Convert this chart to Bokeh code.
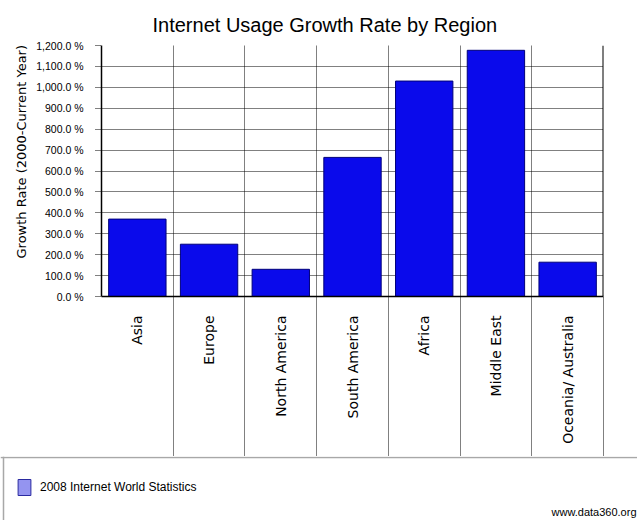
import math
from bokeh.plotting import figure
from bokeh.models import Range1d, FixedTicker, Span, Legend, LegendItem, ColumnDataSource, Title
from bokeh.layouts import column, row
from bokeh.embed import file_html
from bokeh.resources import INLINE
from bokeh.core.properties import value

# ---- data ----
regions = ["Asia", "Europe", "North America", "South America", "Africa", "Middle East", "Oceania/ Australia"]
growth = [370, 250, 130, 665, 1030, 1177, 164]
y_ticks = [0, 100, 200, 300, 400, 500, 600, 700, 800, 900, 1000, 1100, 1200]
y_tick_labels = ["0.0 %", "100.0 %", "200.0 %", "300.0 %", "400.0 %", "500.0 %", "600.0 %",
                 "700.0 %", "800.0 %", "900.0 %", "1,000.0 %", "1,100.0 %", "1,200.0 %"]
title_text = "Internet Usage Growth Rate by Region"
y_title = "Growth Rate (2000-Current Year)"
series_name = "2008 Internet World Statistics"
source_note = "www.data360.org"

n = len(regions)
x_pos = [i + 0.5 for i in range(n)]
bounds = [i + 1 for i in range(n)]

SANS = "Liberation Sans"
W, H_TOP, H_BOT = 637, 456, 64

p = figure(width=W, height=H_TOP, x_range=Range1d(0, n), y_range=Range1d(0, 1200),
           output_backend="svg", toolbar_location=None,
           min_border_left=101, min_border_right=34, min_border_top=45, min_border_bottom=160)
p.outline_line_color = None
p.background_fill_color = "white"
p.border_fill_color = "white"

src = ColumnDataSource(dict(x=x_pos, top=growth, region=regions))
bars = p.vbar(x="x", top="top", bottom=0, width=0.8, source=src,
              fill_color="#0a0aeb", line_color="#00007a", line_width=1)

# grids
p.xgrid.ticker = FixedTicker(ticks=bounds[:-1])
p.ygrid.ticker = FixedTicker(ticks=y_ticks)
for g in (p.xgrid[0], p.ygrid[0]):
    g.grid_line_color = "black"
    g.grid_line_dash = "1 1"
    g.grid_line_width = 1

# x axis: long dotted minor ticks form the column separators below the plot
xax = p.xaxis[0]
xax.ticker = FixedTicker(ticks=x_pos, minor_ticks=bounds)
xax.major_label_overrides = {x: r for x, r in zip(x_pos, regions)}
xax.major_label_orientation = math.pi / 2
xax.major_tick_out = 0
xax.major_tick_in = 0
xax.minor_tick_out = 160
xax.minor_tick_in = 0
xax.minor_tick_line_color = "black"
xax.minor_tick_line_dash = "1 1"
xax.axis_line_color = "black"
xax.axis_line_width = 1.5
xax.major_label_standoff = 19 - 160
xax.major_label_text_font = "DejaVu Sans"
xax.major_label_text_font_size = "14px"
xax.major_label_text_color = "black"

# y axis
yax = p.yaxis[0]
yax.ticker = FixedTicker(ticks=y_ticks, minor_ticks=[])
yax.major_label_overrides = {t: l for t, l in zip(y_ticks, y_tick_labels)}
yax.major_tick_out = 6
yax.major_tick_in = 0
yax.major_tick_line_color = "black"
yax.major_tick_line_dash = "1 1"
yax.minor_tick_line_color = None
yax.axis_line_color = "black"
yax.axis_line_width = 1.5
yax.major_label_standoff = 12
yax.major_label_text_font = SANS
yax.major_label_text_font_size = "10.5px"
yax.major_label_text_color = "black"

# right border
p.add_layout(Span(location=n, dimension="height", line_color="black", line_width=2))

# title and y title
p.title.text = title_text
p.title.align = "left"
p.title.offset = 51
p.title.standoff = 19
p.title.text_font = SANS
p.title.text_font_size = "20px"
p.title.text_font_style = "normal"
p.title.text_color = "black"
p.add_layout(Title(text=y_title, align="left", offset=38, text_font="DejaVu Sans",
                   text_font_size="13px", text_font_style="normal", text_color="black"), "left")

# ---- legend strip (separate canvas, pixel coordinates) ----
p2 = figure(width=W, height=H_BOT, x_range=Range1d(0, W), y_range=Range1d(0, H_BOT),
            output_backend="svg", toolbar_location=None,
            x_axis_location=None, y_axis_location=None,
            min_border_left=0, min_border_right=0, min_border_top=0, min_border_bottom=0)
p2.grid.visible = False
p2.outline_line_color = None
p2.border_fill_color = "white"
p2.background_fill_color = "white"
p2.add_layout(Span(location=H_BOT - 1, dimension="width", line_color="#a8a8a8", line_width=1.5))
p2.add_layout(Span(location=3, dimension="height", line_color="#a8a8a8", line_width=1.5))

swatch = p2.rect(x=[-50], y=[-50], width=14, height=14, fill_color="#9494f0", line_color="#2a2aa0")
legend = Legend(items=[LegendItem(label=series_name, renderers=[swatch])], location=(16, 23),
                glyph_width=16, glyph_height=20, label_standoff=8, padding=0, margin=0,
                label_height=20, border_line_color=None, background_fill_alpha=0,
                label_text_font=SANS, label_text_font_size="12px", label_text_color="black")
p2.add_layout(legend)

p2.text(x=[W - 1], y=[9], text=[source_note], text_align="right", text_baseline="middle",
        text_font=value(SANS), text_font_size="11px", text_color="black")

layout = column(p, row(p2), spacing=0)
open("out.html", "w").write(file_html(layout, INLINE))
